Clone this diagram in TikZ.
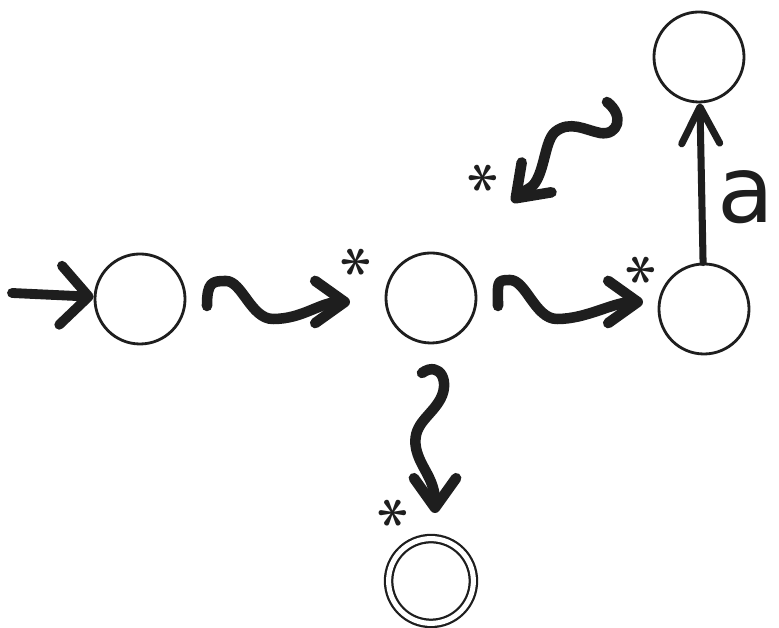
\documentclass[tikz,border=0pt]{standalone}
\usepackage{fontspec}
\newfontfamily\labelfont{DejaVu Sans}
\usetikzlibrary{arrows.meta}
\definecolor{Ink}{RGB}{30,30,30}
\tikzset{
  qstate/.style={circle,draw=Ink,line width=2pt,minimum size=2.25cm,inner sep=0pt},
  qaccept/.style={circle,draw=Ink,line width=1.6pt,double,double distance=3.6pt,minimum size=2.12cm,inner sep=0pt},
  initpath/.style={-{Straight Barb[length=20pt,width=42pt,round]},draw=Ink,line width=7pt,line cap=round},
  wavepath/.style={-{Straight Barb[length=21pt,width=30pt,round]},draw=Ink,line width=7.5pt,line cap=round,line join=round},
  transpath/.style={-{Straight Barb[length=26pt,width=27pt,round]},draw=Ink,line width=5pt,line cap=round},
  starmark/.style={font=\bfseries\fontsize{44}{44}\selectfont,text=Ink,inner sep=0pt,rotate=90},
  translabel/.style={font=\labelfont\fontsize{66}{66}\selectfont,text=Ink,inner sep=0pt}
}
\begin{document}
\begin{tikzpicture}[x=0.025cm,y=0.025cm]
\useasboundingbox (0,0) rectangle (779,628);
% states
\node[qstate] (q0) at (140,329) {};
\node[qstate] (q1) at (431,330) {};
\node[qstate] (q2) at (704,319) {};
\node[qstate] (q3) at (699,571) {};
\node[qaccept] (q4) at (431,47) {};

% stars
\node[starmark] (s1) at (365,366) {*};
\node[starmark] (s2) at (650,358) {*};
\node[starmark] (s3) at (492,450) {*};
\node[starmark] (s4) at (402,115) {*};

% free ends
\coordinate (start) at (12,335);
\coordinate (w1s) at (207,322);
\coordinate (w1p) at (226,347);
\coordinate (w1t) at (273,309);
\coordinate (w1e) at (350,326);
\coordinate (w2s) at (498,322);
\coordinate (w2p) at (510,348);
\coordinate (w2t) at (557,309);
\coordinate (w2e) at (643,326);
\coordinate (w3s) at (607,526);
\coordinate (w3e) at (512,426);
\coordinate (w4s) at (422,255);
\coordinate (w4e) at (435,115);

\draw[initpath] (start) -- (q0);
\draw[wavepath] (w1s) .. controls +(0,24) and +(-14,0) .. (w1p) .. controls +(16,0) and +(-22,0) .. (w1t) .. controls +(30,0) and +(-30,0) .. (w1e);
\draw[wavepath] (w2s) .. controls +(0,24) and +(-14,0) .. (w2p) .. controls +(16,0) and +(-22,0) .. (w2t) .. controls +(30,0) and +(-30,0) .. (w2e);
\draw[wavepath] (w3s) .. controls (625,512) and (618,492) .. (600,495) .. controls (585,498) and (570,508) .. (555,496) .. controls (545,487) and (545,460) .. (535,445) .. controls (530,438) and (524,438) .. (w3e);
\draw[wavepath] (w4s) .. controls (440,268) and (452,245) .. (438,225) .. controls (428,210) and (412,202) .. (416,180) .. controls (420,160) and (435,150) .. (w4e);
\draw[transpath] (q2) -- node[translabel,pos=0.41,right=9pt] {a} (q3);
\end{tikzpicture}
\end{document}
